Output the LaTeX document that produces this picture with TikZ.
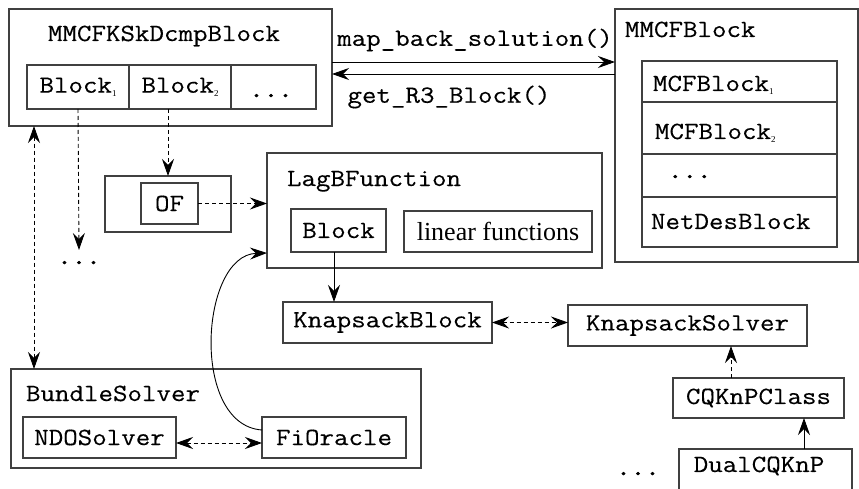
\documentclass[tikz,border=0pt]{standalone}
\usepackage{fontspec}
\setmainfont{Liberation Serif}
\setmonofont[FakeStretch=1.14,FakeBold=0.3]{Latin Modern Mono}
\newfontfamily\dotsfont[FakeStretch=1.14,FakeBold=2.5]{Latin Modern Mono}
\usetikzlibrary{arrows.meta}
\newcommand\subidx[1]{\raisebox{-0.35ex}{\fontsize{9}{9}\selectfont\rmfamily #1}}
\begin{document}
\begin{tikzpicture}[x=1pt,y=-1pt,
  every node/.style={font=\fontsize{24.7}{28}\selectfont\ttfamily, inner sep=0pt, outer sep=0pt},
  box/.style={draw=black!75, line width=1.1pt, rectangle},
  title/.style={anchor=base west},
  dotted text/.style={font=\fontsize{24.7}{28}\selectfont\dotsfont},
  conn/.style={line width=0.9pt, black},
  dconn/.style={conn, dash pattern=on 4pt off 3pt},
  fwd/.style={-{Stealth[length=17pt,width=12pt,inset=6pt]}},
  back/.style={{Stealth[length=17pt,width=12pt,inset=6pt]}-},
  both/.style={{Stealth[length=17pt,width=12pt,inset=6pt]}-{Stealth[length=17pt,width=12pt,inset=6pt]}}]
\useasboundingbox (0,0) rectangle (859,489);

% ---- MMCFKSkDcmpBlock with its block row
\node[box, minimum width=323pt, minimum height=117pt] (mmcfk) at (170.5,67.5) {};
\node[title] (mmcfkT) at (48,41) {MMCFKSkDcmpBlock};
\node[box, minimum width=102pt, minimum height=44pt] (b1) at (78,87) {Block\subidx{1}};
\node[box, minimum width=102pt, minimum height=44pt] (b2) at (180,87) {Block\subidx{2}};
\node[box, minimum width=85pt, minimum height=44pt] (b3) at (273.5,87) {};
\node[dotted text, anchor=base] (b3T) at (271,97) {...};

% ---- MMCFBlock with its stacked sub-blocks
\node[box, minimum width=243pt, minimum height=253pt] (mmcf) at (736.5,135.5) {};
\node[title] (mmcfT) at (625,37) {MMCFBlock};
\node[box, minimum width=195pt, minimum height=41pt] (s1) at (739.5,81.5) {};
\node[box, minimum width=195pt, minimum height=52pt] (s2) at (739.5,128) {};
\node[box, minimum width=195pt, minimum height=43pt] (s3) at (739.5,175.5) {};
\node[box, minimum width=195pt, minimum height=50pt] (s4) at (739.5,222) {};
\node[title] (s1T) at (653,91) {MCFBlock\subidx{1}};
\node[title] (s2T) at (655,139) {MCFBlock\subidx{2}};
\node[title, dotted text] (s3T) at (668,178) {...};
\node[title] (s4T) at (651,229) {NetDesBlock};

% ---- calls between the two decompositions
\coordinate (c1) at ([yshift=5.5pt]mmcfk.east);
\coordinate (c2) at ([yshift=-6.5pt]mmcfk.east);
\draw[conn,fwd] (c1) -- (c1 -| mmcf.west);
\draw[conn,back] (c2) -- (c2 -| mmcf.west);
\node (mbs) at (475,40) {map\_back\_solution()};
\node (gr3) at (449,97) {get\_R3\_Block()};

% ---- objective function
\node[box, minimum width=126pt, minimum height=56pt] (ofo) at (168,204) {};
\node[box, minimum width=57pt, minimum height=41pt] (of) at (169.5,203.5) {OF};
\node[dotted text, anchor=base] (dots1) at (79,264) {...};

% ---- LagBFunction
\node[box, minimum width=335pt, minimum height=115pt] (lag) at (434.5,210.5) {};
\node[title] (lagT) at (287,186) {LagBFunction};
\node[box, minimum width=95pt, minimum height=43pt] (lblk) at (338.5,230.5) {Block};
\node[box, minimum width=188pt, minimum height=41pt, font=\fontsize{26}{28}\selectfont\rmfamily] (lin) at (498,231.5) {linear functions};

% ---- knapsack chain
\node[box, minimum width=209pt, minimum height=41pt] (kb) at (387.5,322.5) {KnapsackBlock};
\node[box, minimum width=239pt, minimum height=41pt] (ks) at (687.5,325.5) {KnapsackSolver};
\node[box, minimum width=171pt, minimum height=40pt] (cq) at (758.5,398) {CQKnPClass};
\node[box, minimum width=173pt, minimum height=47pt] (dcq) at (765.5,472.5) {};
\node (dcqT) at (759,466) {DualCQKnP};
\node[dotted text, anchor=base] (dots2) at (638,475) {...};

% ---- BundleSolver
\node[box, minimum width=410pt, minimum height=99pt] (bs) at (216,418.5) {};
\node[title] (bsT) at (26,401) {BundleSolver};
\node[box, minimum width=153pt, minimum height=41pt] (ndo) at (99.5,437.5) {NDOSolver};
\node[box, minimum width=144pt, minimum height=41pt] (fi) at (334,437.5) {FiOracle};

% ---- connectors
\coordinate (vx) at (34,0);
\draw[dconn,both] (vx |- mmcfk.south) -- (vx |- bs.north);
\coordinate (d1e) at (79,250);
\draw[dconn,fwd] (b1.south) -- (d1e);
\draw[dconn,fwd] (ofo.north |- b2.south) -- (ofo.north);
\draw[dconn,fwd] (of.east) -- (of.east -| lag.west);
\draw[conn,fwd] (lblk.south -| 334,0) -- (kb.north -| 334,0);
\draw[dconn,both] (kb.east) -- (kb.east -| ks.west);
\draw[dconn,fwd] (cq.north -| 731,0) -- (ks.south -| 731,0);
\draw[conn,fwd] (dcq.north -| 804,0) -- (cq.south -| 804,0);
\coordinate (d1) at ([yshift=-5.5pt]ndo.east);
\draw[dconn,both] (d1) -- (d1 -| fi.west);
\coordinate (fo) at ([yshift=7.5pt]fi.west);
\coordinate (li) at ([yshift=-42.5pt]lag.west);
\draw[conn,fwd] (fo) .. controls (190,425) and (200,255) .. (li);
\end{tikzpicture}
\end{document}
